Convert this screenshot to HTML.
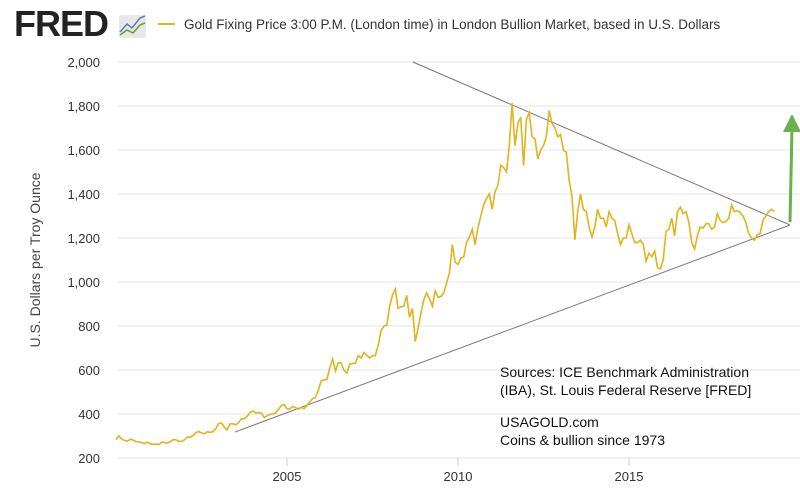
<!DOCTYPE html>
<html><head><meta charset="utf-8"><style>
body{margin:0;background:#fff;width:800px;height:488px;overflow:hidden;font-family:"Liberation Sans",sans-serif}
svg text{font-family:"Liberation Sans",sans-serif}
</style></head><body>
<svg id="c" width="800" height="488">
<g>
<text x="14" y="36" font-size="36" font-weight="bold" fill="#222" letter-spacing="-1">FRED</text>
<rect x="119" y="15" width="27" height="23" rx="2" fill="#e8e8e8"/>
<polyline points="120,32 127,24 132,28 140,18 145,16" fill="none" stroke="#5a7fb5" stroke-width="1.5"/>
<polyline points="120,35 127,30 133,33 140,25 145,23" fill="none" stroke="#6a9a3a" stroke-width="1.5"/>
</g>
<line x1="158" y1="24" x2="175" y2="24" stroke="#e1b31c" stroke-width="2"/>
<text x="184" y="29" font-size="13.5" fill="#333">Gold Fixing Price 3:00 P.M. (London time) in London Bullion Market, based in U.S. Dollars</text>
<text transform="translate(40,260) rotate(-90)" text-anchor="middle" font-size="14" fill="#444">U.S. Dollars per Troy Ounce</text>
<g id="grid"></g><g id="xt"></g>
<g font-size="14" fill="#111">
<text x="500" y="377">Sources:  ICE Benchmark Administration</text>
<text x="500" y="395">(IBA), St. Louis Federal Reserve [FRED]</text>
<text x="500" y="427">USAGOLD.com</text>
<text x="500" y="445">Coins &amp; bullion since 1973</text>
</g>
<g id="tl"></g>
<path id="line" fill="none" stroke="#e1b31c" stroke-width="1.6"/>
<g>
<line x1="790" y1="222" x2="792" y2="128" stroke="#6ab04c" stroke-width="3"/>
<polygon points="783,132 792,114 801,132" fill="#6ab04c"/>
</g>
</svg>
<script>
const yTicks=[200,400,600,800,1000,1200,1400,1600,1800,2000];
const xTicks=[2005,2010,2015];
const startYear=2000;
const prices=[
284,300,286,280,276,285,282,274,273,270,266,272,
265,262,263,261,272,270,268,273,283,283,276,276,
282,295,294,302,314,321,314,310,319,317,319,333,
357,359,340,328,355,356,351,360,379,378,389,407,
414,405,406,404,384,392,398,400,405,420,439,442,
424,423,434,429,422,430,424,438,456,470,476,510,
550,555,557,610,650,596,633,632,598,586,627,629,
631,665,655,679,667,655,665,665,712,780,800,803,
889,940,968,880,888,889,939,839,880,730,790,860,
920,950,924,890,960,930,934,949,996,1043,1170,1090,
1080,1110,1113,1180,1205,1240,1170,1245,1300,1350,1380,1400,
1330,1410,1440,1530,1520,1500,1620,1813,1620,1720,1750,1530,
1740,1770,1660,1650,1560,1600,1620,1660,1780,1720,1700,1660,
1670,1600,1590,1460,1390,1192,1320,1400,1330,1320,1250,1205,
1250,1330,1290,1290,1250,1320,1290,1280,1220,1170,1200,1200,
1260,1220,1180,1180,1190,1170,1095,1130,1115,1140,1065,1060,
1100,1230,1240,1290,1210,1320,1340,1310,1320,1270,1180,1150,
1210,1250,1245,1265,1265,1240,1250,1310,1280,1270,1275,1290,
1350,1320,1325,1315,1300,1270,1220,1200,1190,1215,1220,1280,
1300,1320,1330,1320];
const trendUpper=[[2008.68,2000],[2019.71,1259]];
const trendLower=[[2003.48,318],[2019.71,1259]];
const X=t=>287+(t-2005)*34.2;
const Y=v=>458-(v-200)*0.22;
const NS='http://www.w3.org/2000/svg';
const grid=document.getElementById('grid');
yTicks.forEach(v=>{
 const l=document.createElementNS(NS,'line');
 l.setAttribute('x1',118);l.setAttribute('x2',800);l.setAttribute('y1',Y(v));l.setAttribute('y2',Y(v));
 l.setAttribute('stroke','#e4e4ec');l.setAttribute('stroke-width','1');
 
 
 grid.appendChild(l);
 const t=document.createElementNS(NS,'text');
 t.setAttribute('x',100);t.setAttribute('y',Y(v)+5);t.setAttribute('text-anchor','end');
 t.setAttribute('font-size','13');t.setAttribute('fill','#333');
 t.textContent=v.toLocaleString('en-US');
 
 
 grid.appendChild(t);
});
const xt=document.getElementById('xt');
xTicks.forEach(y=>{
 const t=document.createElementNS(NS,'text');
 t.setAttribute('x',X(y));t.setAttribute('y',481);t.setAttribute('text-anchor','middle');
 t.setAttribute('font-size','13');t.setAttribute('fill','#333');
 t.textContent=y;
 
 
 xt.appendChild(t);
 const k=document.createElementNS(NS,'line');
 k.setAttribute('x1',X(y));k.setAttribute('x2',X(y));k.setAttribute('y1',458);k.setAttribute('y2',466);
 k.setAttribute('stroke','#ccc');
 
 
 xt.appendChild(k);
});
const tl=document.getElementById('tl');
[trendUpper,trendLower].forEach((p,i)=>{
 const l=document.createElementNS(NS,'line');
 l.setAttribute('x1',X(p[0][0]));l.setAttribute('y1',Y(p[0][1]));
 l.setAttribute('x2',X(p[1][0]));l.setAttribute('y2',Y(p[1][1]));
 l.setAttribute('stroke','#777');l.setAttribute('stroke-width','1');
 
 
 tl.appendChild(l);
});
document.getElementById('line').setAttribute('d',prices.map((v,i)=>(i?'L':'M')+X(startYear+i/12).toFixed(1)+','+Y(v).toFixed(1)).join(''));
</script>
</body></html>
